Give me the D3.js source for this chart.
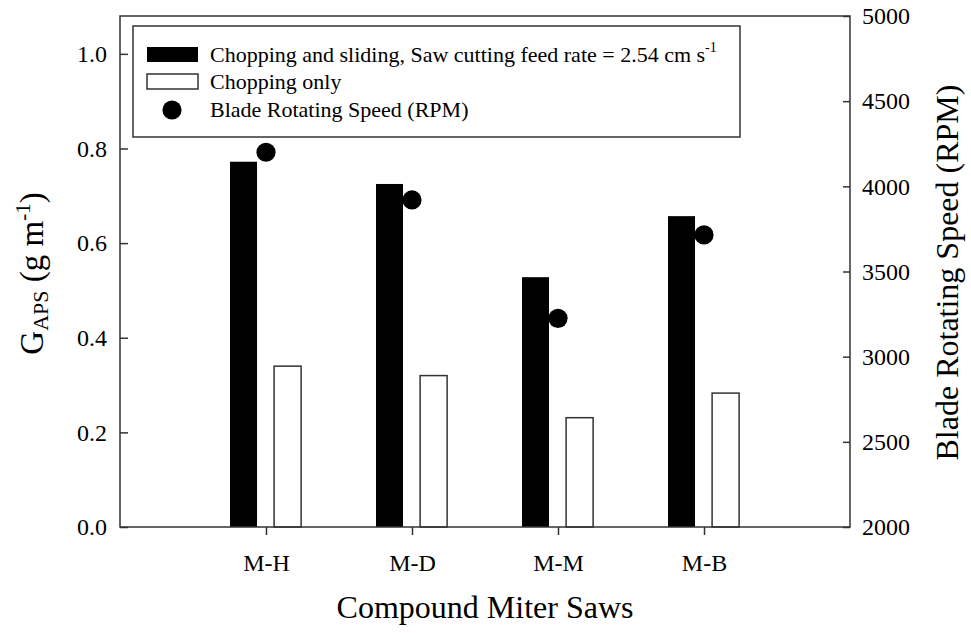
<!DOCTYPE html>
<html>
<head>
<meta charset="utf-8">
<script src="https://cdn.jsdelivr.net/npm/d3@7"></script>
<style>
  body { margin: 0; background: #fff; }
  svg text { font-family: "Liberation Serif", "Times New Roman", serif; }
</style>
</head>
<body>
<svg id="chart"></svg>
<script>
// data
const saws = ["M-H", "M-D", "M-M", "M-B"];
const chopSlide = [0.772, 0.725, 0.528, 0.657];
const chopOnly = [0.340, 0.320, 0.231, 0.283];
const bladeRpm = [4200, 3920, 3225, 3715];
const leftTicks = [0.0, 0.2, 0.4, 0.6, 0.8, 1.0];
const rightTicks = [2000, 2500, 3000, 3500, 4000, 4500, 5000];

const serif = "'Liberation Serif', 'Times New Roman', serif";

// set the dimensions and margins of the graph
const margin = { top: 16, right: 121, bottom: 106, left: 120 };
const width = 971 - margin.left - margin.right;
const height = 633 - margin.top - margin.bottom;
const ink = "#000";
const frame = "#333";

const svg = d3.select("#chart")
  .attr("width", 971)
  .attr("height", 633)
  .attr("font-family", serif)
  .append("g")
  .attr("transform", "translate(" + margin.left + "," + margin.top + ")");

// set the ranges
const x = d3.scaleLinear().domain([0, saws.length + 1]).range([0, width]);
const y = d3.scaleLinear().domain([0, 1.08]).range([height, 0]);
const yRpm = d3.scaleLinear().domain([2000, 5000]).range([height, 0]);

const barW = 0.185;   // in category units
const blackOff = -0.154;
const whiteOff = 0.148;

// black bars: chopping and sliding
svg.selectAll("rect.slide")
  .data(chopSlide)
  .join("rect")
  .attr("class", "slide")
  .attr("x", (d, i) => x(i + 1 + blackOff - barW / 2))
  .attr("width", x(barW) - x(0))
  .attr("y", d => y(d))
  .attr("height", d => y(0) - y(d))
  .attr("fill", ink);

// white bars: chopping only
svg.selectAll("rect.chop")
  .data(chopOnly)
  .join("rect")
  .attr("class", "chop")
  .attr("x", (d, i) => x(i + 1 + whiteOff - barW / 2))
  .attr("width", x(barW) - x(0))
  .attr("y", d => y(d))
  .attr("height", d => y(0) - y(d))
  .attr("fill", "#fff")
  .attr("stroke", frame)
  .attr("stroke-width", 1.5);

// rpm dots
svg.selectAll("circle.rpm")
  .data(bladeRpm)
  .join("circle")
  .attr("class", "rpm")
  .attr("cx", (d, i) => x(i + 1))
  .attr("cy", d => yRpm(d))
  .attr("r", 9.6)
  .attr("fill", ink);

// Add the left Axis (ticks inside)
const gLeft = svg.append("g")
  .call(d3.axisLeft(y).tickValues(leftTicks).tickFormat(d3.format(".1f"))
    .tickSize(-8).tickSizeOuter(0).tickPadding(13));

// Add the right Axis
const gRight = svg.append("g")
  .attr("transform", "translate(" + width + ",0)")
  .call(d3.axisRight(yRpm).tickValues(rightTicks).tickFormat(d3.format("d"))
    .tickSize(-7).tickSizeOuter(0).tickPadding(12));

// Add the X Axis
const gBottom = svg.append("g")
  .attr("transform", "translate(0," + height + ")")
  .call(d3.axisBottom(x).tickValues(d3.range(1, saws.length + 1))
    .tickFormat((d, i) => saws[i]).tickSize(8).tickSizeOuter(0));
gBottom.selectAll("text").attr("y", 44).attr("dy", 0);

[gLeft, gRight, gBottom].forEach(g => {
  g.attr("font-family", serif).attr("font-size", 24);
  g.select(".domain").remove();
  g.selectAll("line").attr("stroke", frame).attr("stroke-width", 1.5);
  g.selectAll("text").attr("fill", ink);
});

// plot frame
svg.append("rect")
  .attr("width", width)
  .attr("height", height)
  .attr("fill", "none")
  .attr("stroke", frame)
  .attr("stroke-width", 1.5);

// text label for the x axis
svg.append("text")
  .attr("x", width / 2)
  .attr("y", height + 91)
  .attr("text-anchor", "middle")
  .attr("font-family", serif)
  .attr("font-size", 32)
  .text("Compound Miter Saws");

// text label for the left y axis
const tl = svg.append("text")
  .attr("transform", "translate(" + (43 - margin.left) + "," + (height / 2 + 2) + ") rotate(-90)")
  .attr("text-anchor", "middle")
  .attr("font-family", serif)
  .attr("font-size", 33);
tl.append("tspan").text("G");
tl.append("tspan").attr("dy", 5).attr("font-size", 22).text("APS");
tl.append("tspan").attr("dy", -5).text(" (g m");
tl.append("tspan").attr("dy", -13).attr("font-size", 21).text("-1");
tl.append("tspan").attr("dy", 13).text(")");

// text label for the right y axis
svg.append("text")
  .attr("transform", "translate(" + (958 - margin.left) + "," + (height / 2 + 1) + ") rotate(-90)")
  .attr("text-anchor", "middle")
  .attr("font-family", serif)
  .attr("font-size", 32)
  .text("Blade Rotating Speed (RPM)");

// Handmade legend
const lg = svg.append("g")
  .attr("transform", "translate(" + (133 - margin.left) + "," + (26 - margin.top) + ")")
  .attr("font-family", serif)
  .attr("font-size", 22);
lg.append("rect").attr("width", 607).attr("height", 111)
  .attr("fill", "#fff").attr("stroke", frame).attr("stroke-width", 1.5);
lg.append("rect").attr("x", 14).attr("y", 21).attr("width", 51).attr("height", 15).attr("fill", ink);
lg.append("rect").attr("x", 14).attr("y", 48).attr("width", 51).attr("height", 15)
  .attr("fill", "#fff").attr("stroke", frame).attr("stroke-width", 1.5);
lg.append("circle").attr("cx", 39).attr("cy", 84).attr("r", 9.6).attr("fill", ink);

const t1 = lg.append("text").attr("x", 77).attr("y", 36);
t1.append("tspan").text("Chopping and sliding, Saw cutting feed rate = 2.54 cm s");
t1.append("tspan").attr("dy", -10).attr("font-size", 14).text("-1");
lg.append("text").attr("x", 77).attr("y", 63).text("Chopping only");
lg.append("text").attr("x", 77).attr("y", 91).text("Blade Rotating Speed (RPM)");
</script>
</body>
</html>
